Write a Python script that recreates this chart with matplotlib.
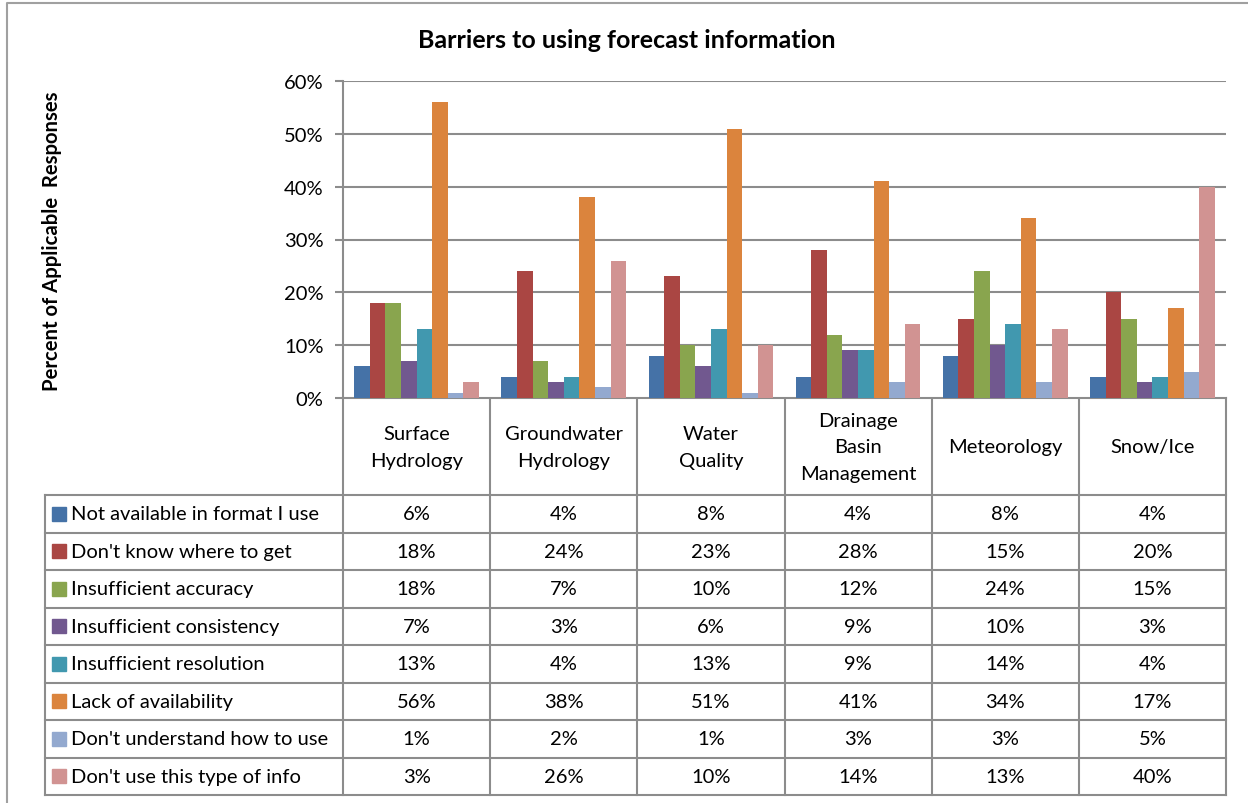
import numpy as np
import matplotlib.pyplot as plt
from matplotlib.patches import Rectangle

categories = ["Surface\nHydrology", "Groundwater\nHydrology", "Water\nQuality",
              "Drainage\nBasin\nManagement", "Meteorology", "Snow/Ice"]
series = ["Not available in format I use", "Don't know where to get",
          "Insufficient accuracy", "Insufficient consistency",
          "Insufficient resolution", "Lack of availability",
          "Don't understand how to use", "Don't use this type of info"]

not_available = [6, 4, 8, 4, 8, 4]
dont_know_where = [18, 24, 23, 28, 15, 20]
insuff_accuracy = [18, 7, 10, 12, 24, 15]
insuff_consistency = [7, 3, 6, 9, 10, 3]
insuff_resolution = [13, 4, 13, 9, 14, 4]
lack_availability = [56, 38, 51, 41, 34, 17]
dont_understand = [1, 2, 1, 3, 3, 5]
dont_use = [3, 26, 10, 14, 13, 40]

values = [not_available, dont_know_where, insuff_accuracy, insuff_consistency,
          insuff_resolution, lack_availability, dont_understand, dont_use]
colors = ["#4572A7", "#AA4643", "#89A54E", "#71588F",
          "#4198AF", "#DB843D", "#93A9CF", "#D19392"]

W, H = 1248, 804
FONT = "Lato"
FS = 14.5
GRID = "#8c8c8c"

fig = plt.figure(figsize=(W / 100, H / 100), dpi=100)

# pixel layout
x0, x1 = 343, 1226
y_top, y_zero = 82, 399

ax = fig.add_axes([x0 / W, 1 - y_zero / H, (x1 - x0) / W, (y_zero - y_top) / H])
n = len(categories)
bw = 0.106
x = np.arange(n)
for i, (vals, c) in enumerate(zip(values, colors)):
    ax.bar(x - 3.5 * bw + i * bw, vals, width=bw, color=c, zorder=3)
ax.set_xlim(-0.5, n - 0.5)
ax.set_ylim(0, 60)
ax.set_yticks(range(0, 61, 10))
ax.set_yticklabels([f"{v}%" for v in range(0, 61, 10)], fontfamily=FONT, fontsize=FS)
ax.tick_params(axis="y", length=6, width=1.5, color=GRID, pad=8)
ax.set_xticks([])
ax.grid(axis="y", color=GRID, linewidth=1.5, zorder=0)
for s in ["top", "right", "bottom"]:
    ax.spines[s].set_visible(False)
ax.spines["left"].set_color(GRID)
ax.spines["left"].set_linewidth(1.5)

# overlay in pixel coordinates for table, title, border
ov = fig.add_axes([0, 0, 1, 1], zorder=-1)
ov.set_xlim(0, W)
ov.set_ylim(H, 0)
ov.axis("off")

ov.plot([7, 7, W], [H, 4, 4], color="#a0a0a0", lw=1.5)
ov.text(627, 40, "Barriers to using forecast information", ha="center", va="center",
        fontfamily=FONT, fontweight="bold", fontsize=18)
ov.text(52, 241, "Percent of Applicable  Responses", ha="center", va="center",
        rotation=90, fontfamily=FONT, fontweight="bold", fontsize=14.6)

col_edges = np.linspace(x0, x1, n + 1)
row_top = 496
row_h = 37.5
tab_left = 45
tab_bottom = row_top + row_h * len(series)

# column lines
for xe in col_edges:
    ov.plot([xe, xe], [y_zero, tab_bottom], color=GRID, lw=1.5)
ov.plot([x0, x1], [y_zero, y_zero], color=GRID, lw=1.5)
ov.plot([tab_left, tab_left], [row_top, tab_bottom], color=GRID, lw=1.5)
for r in range(len(series) + 1):
    yy = row_top + r * row_h
    ov.plot([tab_left, x1], [yy, yy], color=GRID, lw=1.5)

for j, cat in enumerate(categories):
    ov.text((col_edges[j] + col_edges[j + 1]) / 2, 448, cat,
            ha="center", va="center", fontfamily=FONT, fontsize=FS, linespacing=1.65)

for r, (name, vals, c) in enumerate(zip(series, values, colors)):
    yc = row_top + (r + 0.5) * row_h
    ov.add_patch(Rectangle((52, yc - 7), 14, 14, color=c))
    ov.text(71, yc, name, ha="left", va="center", fontfamily=FONT, fontsize=FS)
    for j, v in enumerate(vals):
        ov.text((col_edges[j] + col_edges[j + 1]) / 2, yc, f"{v}%",
                ha="center", va="center", fontfamily=FONT, fontsize=FS)

fig.savefig("out.png", dpi=100)
